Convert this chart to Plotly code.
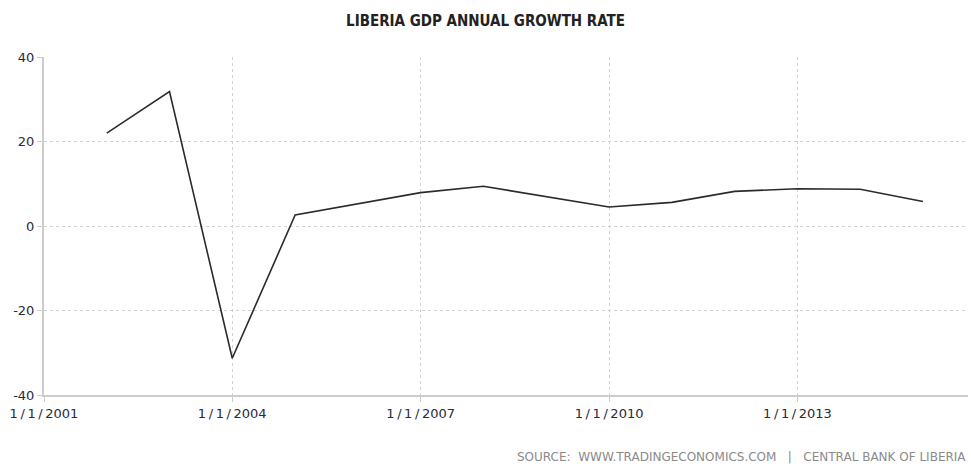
import plotly.graph_objects as go

# Annual GDP growth rate, Liberia (%)
years = ["2002-01-01", "2003-01-01", "2004-01-01", "2005-01-01", "2007-01-01",
         "2008-01-01", "2010-01-01", "2011-01-01", "2012-01-01", "2013-01-01",
         "2014-01-01", "2015-01-01"]
growth = [22.0, 31.8, -31.3, 2.6, 7.9, 9.4, 4.5, 5.6, 8.2, 8.8, 8.7, 5.8]

tick_dates = ["2001-01-01", "2004-01-01", "2007-01-01", "2010-01-01", "2013-01-01"]
tick_labels = ["1/1/2001", "1/1/2004", "1/1/2007", "1/1/2010", "1/1/2013"]
y_ticks = [-40, -20, 0, 20, 40]

title_text = "LIBERIA GDP ANNUAL GROWTH RATE"
source_text = "SOURCE:  WWW.TRADINGECONOMICS.COM   |   CENTRAL BANK OF LIBERIA"

spaced_labels = [t.replace("/", "\u2009/\u2009") for t in tick_labels]
y_labels = [str(v) for v in y_ticks]

fig = go.Figure()
fig.add_trace(go.Scatter(
    x=years, y=growth, mode="lines",
    line=dict(color="#2b2b2b", width=1.6),
    hoverinfo="x+y", showlegend=False,
))

fig.update_layout(
    width=971, height=464,
    margin=dict(l=44, r=3, t=57, b=69),
    paper_bgcolor="white", plot_bgcolor="white",
    title=dict(text=title_text, x=0.5, xanchor="center",
               y=1 - 21 / 464, yref="container", yanchor="middle",
               font=dict(family="DejaVu Sans Condensed", size=15, color="#222",
                         weight=600)),
    font=dict(family="DejaVu Sans", color="#2a2a3a"),
    xaxis=dict(
        type="date",
        range=["2001-01-01", "2015-09-20"],
        tickvals=tick_dates, ticktext=spaced_labels,
        tickfont=dict(size=13, color="#2a2a3a"),
        ticks="outside", ticklen=5, tickcolor="#cccccc",
        showline=True, linecolor="#cccccc", linewidth=2,
        showgrid=True, gridcolor="#d2d2d2", griddash="dot", gridwidth=1,
        zeroline=False,
    ),
    yaxis=dict(
        range=[-40, 40],
        tickvals=y_ticks, ticktext=y_labels,
        tickfont=dict(size=13, color="#2a2a3a"),
        ticks="outside", ticklen=5, tickcolor="#cccccc",
        showline=True, linecolor="#cccccc", linewidth=2,
        showgrid=True, gridcolor="#d2d2d2", griddash="dot", gridwidth=1,
        zeroline=False,
    ),
)

fig.add_annotation(
    text=source_text, xref="paper", yref="paper",
    x=1, xanchor="right", y=-(457 - 395) / (395 - 57), yanchor="middle",
    showarrow=False,
    font=dict(family="DejaVu Sans", size=12, color="#8a8a8a"),
)

fig.write_html("out.html")
